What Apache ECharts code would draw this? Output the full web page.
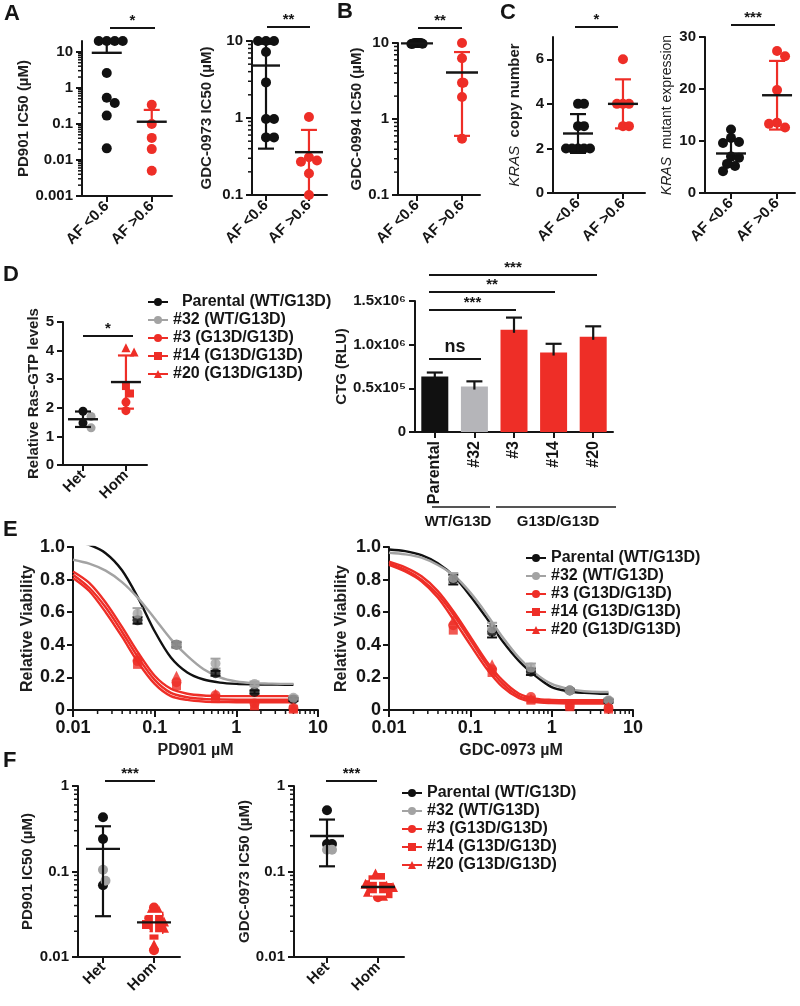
<!DOCTYPE html>
<html>
<head>
<meta charset="utf-8">
<script src="https://cdn.jsdelivr.net/npm/echarts@6/dist/echarts.min.js"></script>
<style>html,body{margin:0;padding:0;background:#fff}#chart{width:800px;height:1006px}</style>
</head>
<body>
<div id="chart"></div>
<script>
// ================= DATA =================
// Panel A / B / C: groups by KRAS allele frequency
const afCategories = ['AF <0.6', 'AF >0.6'];
const pdIC50Low = [20, 20, 20, 20, 2.6, 0.53, 0.38, 0.17, 0.021];
const pdIC50High = [0.34, 0.1, 0.041, 0.02, 0.005];
const pdIC50Mean = [9.4, 0.115];
const pdIC50SD = [9.6, 0.13];
const gdc0973Low = [10, 10, 10, 7.2, 2.9, 0.97, 0.97, 0.56, 0.56];
const gdc0973High = [1.03, 0.31, 0.28, 0.27, 0.19, 0.1];
const gdc0973Mean = [4.8, 0.36];
const gdc0973SD = [4.4, 0.34];
const gdc0994Low = [10, 10, 10, 10, 9.9, 9.9, 9.8, 9.8, 9.7];
const gdc0994High = [10, 6.3, 3.0, 3.0, 1.95, 0.55];
const gdc0994Mean = [9.9, 4.1];
const gdc0994SD = [0.1, 3.5];
const krasCopyLow = [4, 4, 3, 3, 2, 2, 2, 2, 2];
const krasCopyHigh = [6, 4, 4, 4, 3, 3];
const krasCopyMean = [2.67, 4.0];
const krasCopySD = [0.87, 1.1];
const krasExprLow = [12.2, 10.6, 9.8, 9.6, 7.0, 6.8, 5.6, 5.2, 4.2];
const krasExprHigh = [27.3, 26.3, 19.8, 13.5, 12.6, 13.3];
const krasExprMean = [7.6, 18.8];
const krasExprSD = [2.5, 6.6];

// Clones
const cloneNames = ['Parental (WT/G13D)', '#32 (WT/G13D)', '#3 (G13D/G13D)', '#14 (G13D/G13D)', '#20 (G13D/G13D)'];
const hetHomCategories = ['Het', 'Hom'];

// Panel D left: relative Ras-GTP levels
const rasGtpParental = [1.88, 1.47];
const rasGtp32 = [1.7, 1.3];
const rasGtp3 = [2.2, 1.9];
const rasGtp14 = [2.76, 2.5];
const rasGtp20 = [4.1, 3.95];
const rasGtpMean = [1.6, 2.9];
const rasGtpSD = [0.27, 0.93];

// Panel D right: CTG (RLU)
const ctgCategories = ['Parental', '#32', '#3', '#14', '#20'];
const ctgMean = [636000, 520000, 1170000, 910000, 1090000];
const ctgErr = [45000, 60000, 140000, 100000, 120000];
const ctgTickValues = [0, 500000, 1000000, 1500000];
const ctgTickLabels = ['0', '0.5x10\u2075', '1.0x10\u2076', '1.5x10\u2076'];
const ctgGroupLabels = ['WT/G13D', 'G13D/G13D'];

// Panel E: dose response (measured points)
const doseUM = [0.0617, 0.185, 0.556, 1.67, 5];
const pdViabParental = [0.55, 0.40, 0.225, 0.11, 0.065];
const pdViab32 = [0.59, 0.40, 0.285, 0.16, 0.075];
const pdViab3 = [0.30, 0.17, 0.09, 0.04, 0.01];
const pdViab14 = [0.28, 0.15, 0.07, 0.025, 0.005];
const pdViab20 = [0.33, 0.21, 0.10, 0.03, 0.015];
const pdErrParental = [0.02, 0.015, 0.015, 0.01, 0.01];
const pdErr32 = [0.035, 0.02, 0.03, 0.015, 0.01];
const gdcViabParental = [0.80, 0.48, 0.235, 0.12, 0.055];
const gdcViab32 = [0.81, 0.50, 0.26, 0.12, 0.06];
const gdcViab3 = [0.52, 0.25, 0.08, 0.025, 0.01];
const gdcViab14 = [0.49, 0.23, 0.06, 0.02, 0.005];
const gdcViab20 = [0.55, 0.28, 0.07, 0.03, 0.02];
const gdcErrParental = [0.03, 0.035, 0.02, 0.01, 0.01];
const gdcErr32 = [0.03, 0.035, 0.025, 0.01, 0.01];
// Panel E: fitted curves, read at fifth-decade steps
const curveDoseUM = [0.01, 0.0158, 0.0251, 0.0398, 0.0631, 0.1, 0.158, 0.251, 0.398, 0.631, 1, 1.58, 2.51, 3.98, 5];
const pdFitParental = [1.035, 1.013, 0.962, 0.857, 0.685, 0.483, 0.322, 0.23, 0.187, 0.168, 0.16, 0.157, 0.156, 0.155, 0.155];
const pdFit32 = [0.922, 0.898, 0.855, 0.785, 0.685, 0.561, 0.435, 0.332, 0.25, 0.2, 0.175, 0.165, 0.162, 0.16, 0.16];
const pdFit3 = [0.83, 0.75, 0.63, 0.48, 0.32, 0.185, 0.105, 0.078, 0.068, 0.064, 0.063, 0.063, 0.063, 0.063, 0.063];
const pdFit14 = [0.81, 0.73, 0.60, 0.45, 0.29, 0.16, 0.085, 0.062, 0.052, 0.049, 0.048, 0.048, 0.048, 0.048, 0.048];
const pdFit20 = [0.85, 0.78, 0.66, 0.51, 0.35, 0.21, 0.13, 0.10, 0.089, 0.086, 0.085, 0.085, 0.085, 0.085, 0.085];
const gdcFitParental = [0.985, 0.975, 0.95, 0.90, 0.82, 0.70, 0.565, 0.42, 0.30, 0.21, 0.14, 0.115, 0.105, 0.10, 0.10];
const gdcFit32 = [0.965, 0.955, 0.935, 0.89, 0.825, 0.72, 0.59, 0.445, 0.32, 0.225, 0.16, 0.13, 0.115, 0.11, 0.11];
const gdcFit3 = [0.90, 0.86, 0.80, 0.71, 0.58, 0.43, 0.28, 0.16, 0.085, 0.058, 0.052, 0.05, 0.05, 0.05, 0.05];
const gdcFit14 = [0.89, 0.85, 0.79, 0.69, 0.55, 0.40, 0.255, 0.14, 0.072, 0.048, 0.042, 0.04, 0.04, 0.04, 0.04];
const gdcFit20 = [0.91, 0.875, 0.82, 0.73, 0.60, 0.45, 0.30, 0.18, 0.10, 0.07, 0.062, 0.06, 0.06, 0.06, 0.06];

// Panel F: IC50 Het vs Hom
const pdHetParental = [0.43, 0.24, 0.069];
const pdHet32 = [0.105, 0.078];
const pdHom3 = [0.038, 0.028, 0.025, 0.022, 0.012];
const pdHom14 = [0.033, 0.030, 0.027, 0.024, 0.021, 0.018];
const pdHom20 = [0.035, 0.032, 0.026, 0.022, 0.014];
const pdHetHomMean = [0.184, 0.0254];
const pdHetHomSD = [0.154, 0.0065];
const gdcHetParental = [0.52, 0.21, 0.21];
const gdcHet32 = [0.18, 0.18];
const gdcHom3 = [0.075, 0.07, 0.065, 0.06, 0.05];
const gdcHom14 = [0.085, 0.08, 0.07, 0.065, 0.06, 0.055];
const gdcHom20 = [0.095, 0.072, 0.066, 0.058, 0.052];
const gdcHetHomMean = [0.26, 0.066];
const gdcHetHomSD = [0.145, 0.012];

// Tick labels
const ticksA1 = ['0.001', '0.01', '0.1', '1', '10'];
const ticksA2 = ['0.1', '1', '10'];
const ticksB = ['0.1', '1', '10'];
const ticksC1 = [0, 2, 4, 6];
const ticksC2 = [0, 10, 20, 30];
const ticksD1 = [0, 1, 2, 3, 4, 5];
const ticksEx = ['0.01', '0.1', '1', '10'];
const ticksF = ['0.01', '0.1', '1'];

// ================= STYLE / LAYOUT =================
const FONT = '"Liberation Sans", Arial, Helvetica, sans-serif';
const INK = '#151515';
const BLACK = '#111111', GRAY = '#a3a3a3', RED = '#ee2e27', GRAYBAR = '#b5b5b9';
const cloneColors = [BLACK, GRAY, RED, RED, RED];
const cloneSymbols = ['circle', 'circle', 'circle', 'rect', 'triangle'];

const grids = [], xAxes = [], yAxes = [], series = [];
const lg10 = Math.log10;

function addGrid(g) {
  grids.push({ left: g.left, top: g.top, width: g.width, height: g.height, containLabel: false, outerBoundsMode: 'none' });
  return grids.length - 1;
}
const axisLineStyle = { show: true, onZero: false, lineStyle: { color: INK, width: 2 } };
const tickStyle = { color: INK, width: 2 };
function tickLabelStyle(size) {
  return { fontFamily: FONT, fontWeight: 'bold', fontSize: size || 15, color: INK };
}
function nameStyle(size, weight) {
  return { fontFamily: FONT, fontWeight: weight || 'bold', fontSize: size || 15, color: '#1e1e1e' };
}

function yAxisFor(gi, cfg) {
  const vals = cfg.log ? cfg.ticks.map(t => lg10(parseFloat(t))) : cfg.ticks.slice();
  const labels = cfg.ticks.map(String);
  return {
    gridIndex: gi, type: 'value', min: cfg.yMin, max: cfg.yMax,
    axisLine: axisLineStyle,
    axisTick: { show: true, customValues: vals, length: 6, lineStyle: tickStyle },
    axisLabel: Object.assign({ customValues: vals, margin: cfg.labelMargin || 9,
      formatter: v => { let k = 0; vals.forEach((t, i) => { if (Math.abs(t - v) < 1e-6) k = i; }); return labels[k]; } },
      tickLabelStyle(cfg.tickFont)),
    splitLine: { show: false },
    name: cfg.name, nameLocation: 'middle', nameGap: cfg.nameGap,
    nameTextStyle: Object.assign(nameStyle(cfg.nameFont, cfg.nameWeight), { rich: { i: Object.assign(nameStyle(cfg.nameFont, 'normal'), { fontStyle: 'italic' }) } })
  };
}

function minorLogTicks(gi, axis, lo, hi, fixed) {
  const vals = [];
  for (let d = Math.floor(lo); d < Math.ceil(hi); d++) {
    for (let k = 2; k <= 9; k++) { const v = d + lg10(k); if (v > lo + 1e-9 && v < hi - 1e-9) vals.push(v); }
  }
  series.push({
    type: 'custom', xAxisIndex: gi, yAxisIndex: gi, silent: true, z: 2,
    data: vals.map(v => axis === 'y' ? [fixed, v] : [v, fixed]),
    renderItem: (params, api) => {
      const p = api.coord([api.value(0), api.value(1)]);
      const shape = axis === 'y' ? { x1: p[0] - 4, y1: p[1], x2: p[0], y2: p[1] } : { x1: p[0], y1: p[1], x2: p[0], y2: p[1] + 4 };
      return { type: 'line', shape, style: { stroke: INK, lineWidth: 1.5 } };
    }
  });
}

function errRenderer(colors, yMin, meanHalf, capHalf, meanColor) {
  return (params, api) => {
    const i = params.dataIndex;
    const x = api.value(0), m = api.value(1), lo = api.value(2), hi = api.value(3);
    const pm = api.coord([x, m]), ph = api.coord([x, hi]);
    const col = colors[i];
    const ls = () => ({ stroke: col, lineWidth: 2.2 });
    const ch = [
      { type: 'line', shape: { x1: pm[0], y1: pm[1], x2: ph[0], y2: ph[1] }, style: ls() },
      { type: 'line', shape: { x1: ph[0] - capHalf, y1: ph[1], x2: ph[0] + capHalf, y2: ph[1] }, style: ls() }
    ];
    if (lo > yMin - 50) {
      const pl = api.coord([x, Math.max(lo, yMin)]);
      ch.push({ type: 'line', shape: { x1: pm[0], y1: pm[1], x2: pl[0], y2: pl[1] }, style: ls() });
      if (lo >= yMin) ch.push({ type: 'line', shape: { x1: pl[0] - capHalf, y1: pl[1], x2: pl[0] + capHalf, y2: pl[1] }, style: ls() });
    }
    ch.push({ type: 'line', shape: { x1: pm[0] - meanHalf, y1: pm[1], x2: pm[0] + meanHalf, y2: pm[1] }, style: { stroke: meanColor || INK, lineWidth: 2.4 } });
    return { type: 'group', children: ch };
  };
}

// Dot-plot panel (two groups with mean +/- SD)
function addDotPanel(cfg, groups, means, sds) {
  const gi = addGrid(cfg);
  xAxes.push({
    gridIndex: gi, type: 'value', min: cfg.xMin, max: cfg.xMax,
    axisLine: axisLineStyle,
    axisTick: { show: true, customValues: [1, 2], length: 6, lineStyle: tickStyle },
    axisLabel: Object.assign({ customValues: [1, 2], rotate: 45, margin: 8, formatter: v => cfg.cats[Math.round(v) - 1] }, tickLabelStyle(15)),
    splitLine: { show: false }
  });
  yAxes.push(yAxisFor(gi, cfg));
  if (cfg.log) minorLogTicks(gi, 'y', cfg.yMin, cfg.yMax, cfg.xMin);
  const tf = cfg.log ? lg10 : (v => v);
  const pxX = cfg.width / (cfg.xMax - cfg.xMin);
  const pxY = cfg.height / (cfg.yMax - cfg.yMin);
  const buckets = [];
  groups.forEach((grp, gIdx) => {
    const placed = [];
    const d = cfg.size * cfg.swarm;
    grp.forEach(s => {
      let b = buckets.find(q => q.s === s);
      if (!b) { b = { s, data: [] }; buckets.push(b); }
      s.vals.forEach(v => {
        const y = tf(v) * pxY;
        let off = 0;
        for (let k = 0; k < 80; k++) {
          const o = k === 0 ? 0 : (k % 2 ? 1 : -1) * Math.ceil(k / 2) * d * 0.5;
          if (placed.every(q => Math.hypot(q.x - o, q.y - y) >= d - 0.01)) { off = o; break; }
        }
        placed.push({ x: off, y });
        b.data.push([gIdx + 1 + off / pxX, tf(v)]);
      });
    });
  });
  buckets.forEach(b => series.push({
    type: 'scatter', name: b.s.name, xAxisIndex: gi, yAxisIndex: gi, data: b.data,
    symbol: b.s.symbol || 'circle', symbolSize: b.s.size || cfg.size, itemStyle: { color: b.s.color, opacity: 1 }, z: 3, clip: false, silent: true
  }));
  const errData = means.map((m, i) => {
    const lo = m - sds[i];
    return [i + 1, tf(m), (cfg.log && lo <= 0) ? cfg.yMin - 100 : tf(lo), tf(m + sds[i])];
  });
  series.push({ type: 'custom', xAxisIndex: gi, yAxisIndex: gi, data: errData, z: 5, silent: true,
    renderItem: errRenderer(cfg.errColors, cfg.yMin, cfg.meanHalf || 15, cfg.capHalf || 8) });
  return gi;
}

// Dose-response panel
function addCurvePanel(cfg, fits, pts, errs) {
  const gi = addGrid(cfg);
  const xv = ticksEx.map(t => lg10(parseFloat(t)));
  xAxes.push({
    gridIndex: gi, type: 'value', min: -2, max: 1,
    axisLine: axisLineStyle,
    axisTick: { show: true, customValues: xv, length: 7, lineStyle: tickStyle },
    axisLabel: Object.assign({ customValues: xv, margin: 9, formatter: v => ticksEx[Math.round(v) + 2] }, tickLabelStyle(18)),
    splitLine: { show: false },
    name: cfg.xName, nameLocation: 'middle', nameGap: 33, nameTextStyle: nameStyle(16, 'bold')
  });
  yAxes.push({
    gridIndex: gi, type: 'value', min: 0, max: 1, interval: 0.2,
    axisLine: axisLineStyle,
    axisTick: { show: true, length: 6, lineStyle: tickStyle },
    axisLabel: Object.assign({ margin: 8, formatter: v => v === 0 ? '0' : v.toFixed(1) }, tickLabelStyle(18)),
    splitLine: { show: false },
    name: 'Relative Viability', nameLocation: 'middle', nameGap: cfg.nameGap, nameTextStyle: nameStyle(16)
  });
  minorLogTicks(gi, 'x', -2, 1, 0);
  fits.forEach((f, i) => series.push({
    type: 'line', name: cloneNames[i], xAxisIndex: gi, yAxisIndex: gi,
    data: curveDoseUM.map((d, j) => [lg10(d), f[j]]),
    smooth: 0.3, showSymbol: false, symbol: cloneSymbols[i], symbolSize: 9,
    color: cloneColors[i], lineStyle: { width: 2.4, color: cloneColors[i] }, z: 2, silent: true
  }));
  pts.forEach((p, i) => series.push({
    type: 'scatter', name: cloneNames[i], xAxisIndex: gi, yAxisIndex: gi,
    data: doseUM.map((d, j) => [lg10(d), p[j]]),
    symbol: cloneSymbols[i], symbolSize: cloneSymbols[i] === 'rect' ? 9 : 10,
    itemStyle: { color: cloneColors[i] }, z: 4, clip: false, silent: true
  }));
  errs.forEach((e, i) => {
    if (!e) return;
    series.push({
      type: 'custom', xAxisIndex: gi, yAxisIndex: gi, z: 3, silent: true,
      data: doseUM.map((d, j) => [lg10(d), pts[i][j], e[j]]),
      renderItem: (params, api) => {
        const x = api.value(0), y = api.value(1), er = api.value(2);
        const a = api.coord([x, y + er]), b = api.coord([x, Math.max(0, y - er)]);
        const st = () => ({ stroke: cloneColors[i], lineWidth: 2 });
        return { type: 'group', children: [
          { type: 'line', shape: { x1: a[0], y1: a[1], x2: b[0], y2: b[1] }, style: st() },
          { type: 'line', shape: { x1: a[0] - 5, y1: a[1], x2: a[0] + 5, y2: a[1] }, style: st() },
          { type: 'line', shape: { x1: b[0] - 5, y1: b[1], x2: b[0] + 5, y2: b[1] }, style: st() }
        ] };
      }
    });
  });
  return gi;
}

// ---- E panels first (their curve series represent the clones in the legends) ----
addCurvePanel({ left: 73, top: 547, width: 245, height: 163, xName: 'PD901 \u00b5M', nameGap: 35 },
  [pdFitParental, pdFit32, pdFit3, pdFit14, pdFit20],
  [pdViabParental, pdViab32, pdViab3, pdViab14, pdViab20],
  [pdErrParental, pdErr32, null, null, null]);
addCurvePanel({ left: 389, top: 547, width: 244, height: 163, xName: 'GDC-0973 \u00b5M', nameGap: 39 },
  [gdcFitParental, gdcFit32, gdcFit3, gdcFit14, gdcFit20],
  [gdcViabParental, gdcViab32, gdcViab3, gdcViab14, gdcViab20],
  [gdcErrParental, gdcErr32, null, null, null]);

// ---- A, B, C ----
const afBlack = (vals) => ({ name: afCategories[0], vals, color: BLACK });
const afRed = (vals) => ({ name: afCategories[1], vals, color: RED });
addDotPanel({ left: 82, top: 41, width: 90, height: 155, xMin: 0.45, xMax: 2.45, yMin: -3, yMax: lg10(20), log: true,
  ticks: ticksA1, cats: afCategories, name: 'PD901 IC50 (\u00b5M)', nameGap: 46, size: 10, swarm: 0.8, errColors: [BLACK, RED] },
  [[afBlack(pdIC50Low)], [afRed(pdIC50High)]], pdIC50Mean, pdIC50SD);
addDotPanel({ left: 252, top: 41, width: 75, height: 154, xMin: 0.674, xMax: 2.42, yMin: -1, yMax: 1, log: true,
  ticks: ticksA2, cats: afCategories, name: 'GDC-0973 IC50 (\u00b5M)', nameGap: 38, size: 10, swarm: 0.8, errColors: [BLACK, RED], meanHalf: 14 },
  [[afBlack(gdc0973Low)], [afRed(gdc0973High)]], gdc0973Mean, gdc0973SD);
addDotPanel({ left: 398, top: 43, width: 82, height: 152, xMin: 0.578, xMax: 2.4, yMin: -1, yMax: 1, log: true,
  ticks: ticksB, cats: afCategories, name: 'GDC-0994 IC50 (\u00b5M)', nameGap: 34, size: 10, swarm: 0.14, errColors: [BLACK, RED], meanHalf: 16 },
  [[afBlack(gdc0994Low)], [afRed(gdc0994High)]], gdc0994Mean, gdc0994SD);
addDotPanel({ left: 553, top: 37, width: 92, height: 156, xMin: 0.444, xMax: 2.49, yMin: 0, yMax: 7, log: false,
  ticks: ticksC1, cats: afCategories, name: '{i|KRAS}  copy number', nameGap: 31, size: 10, swarm: 0.6, errColors: [BLACK, RED] },
  [[afBlack(krasCopyLow)], [afRed(krasCopyHigh)]], krasCopyMean, krasCopySD);
addDotPanel({ left: 705, top: 37, width: 90, height: 156, xMin: 0.435, xMax: 2.39, yMin: 0, yMax: 30, log: false,
  ticks: ticksC2, cats: afCategories, name: '{i|KRAS}  mutant expression', nameGap: 31, nameFont: 14, nameWeight: 'normal', size: 10, swarm: 0.8, errColors: [BLACK, RED] },
  [[afBlack(krasExprLow)], [afRed(krasExprHigh)]], krasExprMean, krasExprSD);

// ---- D left ----
const cl = (i, vals, size) => ({ name: cloneNames[i], vals, color: cloneColors[i], symbol: cloneSymbols[i], size });
addDotPanel({ left: 63, top: 322, width: 84, height: 143, xMin: 0.535, xMax: 2.49, yMin: 0, yMax: 5, log: false,
  ticks: ticksD1, cats: hetHomCategories, name: 'Relative Ras-GTP levels', nameGap: 22, size: 9, swarm: 0.9, errColors: [BLACK, RED] },
  [[cl(0, rasGtpParental), cl(1, rasGtp32)], [cl(2, rasGtp3), cl(3, rasGtp14, 8), cl(4, rasGtp20)]], rasGtpMean, rasGtpSD);

// ---- D right: bars ----
{
  const gi = addGrid({ left: 415, top: 301, width: 198, height: 131 });
  xAxes.push({
    gridIndex: gi, type: 'category', data: ctgCategories,
    axisLine: axisLineStyle, axisTick: { show: true, alignWithLabel: true, length: 6, lineStyle: tickStyle },
    axisLabel: Object.assign({ rotate: 90, margin: 9, interval: 0 }, tickLabelStyle(16))
  });
  yAxes.push({
    gridIndex: gi, type: 'value', min: 0, max: 1500000,
    axisLine: axisLineStyle,
    axisTick: { show: true, customValues: ctgTickValues, length: 6, lineStyle: tickStyle },
    axisLabel: Object.assign({ customValues: ctgTickValues, margin: 9, formatter: v => ctgTickLabels[ctgTickValues.indexOf(v)] }, tickLabelStyle(15)),
    splitLine: { show: false },
    name: 'CTG (RLU)', nameLocation: 'middle', nameGap: 40, nameTextStyle: nameStyle(15)
  });
  const barColors = [BLACK, GRAYBAR, RED, RED, RED];
  series.push({ type: 'bar', xAxisIndex: gi, yAxisIndex: gi, barWidth: 27, silent: true,
    data: ctgMean.map((v, i) => ({ value: v, itemStyle: { color: barColors[i] } })), z: 2 });
  series.push({ type: 'custom', xAxisIndex: gi, yAxisIndex: gi, z: 3, silent: true,
    data: ctgMean.map((v, i) => [i, v, v + ctgErr[i]]),
    renderItem: (params, api) => {
      const a = api.coord([api.value(0), api.value(1)]), b = api.coord([api.value(0), api.value(2)]);
      const st = () => ({ stroke: INK, lineWidth: 2.2 });
      return { type: 'group', children: [
        { type: 'line', shape: { x1: a[0], y1: a[1] + 3, x2: b[0], y2: b[1] }, style: st() },
        { type: 'line', shape: { x1: b[0] - 8, y1: b[1], x2: b[0] + 8, y2: b[1] }, style: st() }
      ] };
    } });
}

// ---- F ----
addDotPanel({ left: 78, top: 786, width: 102, height: 171, xMin: 0.51, xMax: 2.51, yMin: -2, yMax: 0, log: true,
  ticks: ticksF, cats: hetHomCategories, name: 'PD901 IC50 (\u00b5M)', nameGap: 43, size: 10, swarm: 0.5,
  errColors: [BLACK, '#ffffff'], meanHalf: 17, capHalf: 8 },
  [[cl(0, pdHetParental), cl(1, pdHet32)], [cl(2, pdHom3), cl(3, pdHom14, 9), cl(4, pdHom20)]], pdHetHomMean, pdHetHomSD);
addDotPanel({ left: 294, top: 786, width: 110, height: 171, xMin: 0.353, xMax: 2.51, yMin: -2, yMax: 0, log: true,
  ticks: ticksF, cats: hetHomCategories, name: 'GDC-0973 IC50 (\u00b5M)', nameGap: 36, size: 10, swarm: 0.5,
  errColors: [BLACK, '#ffffff'], meanHalf: 17, capHalf: 8 },
  [[cl(0, gdcHetParental), cl(1, gdcHet32)], [cl(2, gdcHom3), cl(3, gdcHom14, 9), cl(4, gdcHom20)]], gdcHetHomMean, gdcHetHomSD);

// ---- Legends ----
const legendBase = {
  orient: 'vertical', data: cloneNames, itemGap: 2, itemWidth: 20, itemHeight: 10, selectedMode: false,
  textStyle: { fontFamily: FONT, fontWeight: 'bold', fontSize: 16, color: INK, padding: [0, 0, 0, 0] }
};
const legends = [
  Object.assign({}, legendBase, { left: 142, top: 289, formatter: n => n.indexOf('Parental') === 0 ? '  ' + n : n }),
  Object.assign({}, legendBase, { left: 520, top: 545 }),
  Object.assign({}, legendBase, { left: 396, top: 780 })
];

// ---- Annotations (panel letters, significance bars, group labels) ----
const graphic = [];
const letter = (t, x, y) => graphic.push({ type: 'text', left: x, top: y, style: { text: t, font: 'bold 22px ' + FONT, fill: INK } });
letter('A', 4, 3); letter('B', 337, 1); letter('C', 500, 2); letter('D', 3, 264); letter('E', 3, 519); letter('F', 3, 750);
function sig(x1, x2, y, txt, ty, font) {
  graphic.push({ type: 'line', shape: { x1, y1: y, x2, y2: y }, style: { stroke: INK, lineWidth: 2 } });
  graphic.push({ type: 'text', x: (x1 + x2) / 2, y: ty, style: { text: txt, textAlign: 'center', textVerticalAlign: 'middle', font: font || 'bold 15px ' + FONT, fill: INK } });
}
sig(110, 155, 28, '*', 21);
sig(267, 310, 27, '**', 20);
sig(418, 462, 28, '**', 21);
sig(575, 618, 27, '*', 20);
sig(731, 775, 25, '***', 18);
sig(83, 133, 336, '*', 329);
sig(429, 597, 275, '***', 268);
sig(429, 555, 292, '**', 285);
sig(429, 516, 310, '***', 303);
sig(429, 481, 359, 'ns', 347, 'bold 18px ' + FONT);
sig(105, 155, 781, '***', 774);
sig(326, 377, 781, '***', 774);
graphic.push({ type: 'line', shape: { x1: 432, y1: 507, x2: 490, y2: 507 }, style: { stroke: '#555', lineWidth: 2 } });
graphic.push({ type: 'line', shape: { x1: 496, y1: 507, x2: 616, y2: 507 }, style: { stroke: '#555', lineWidth: 2 } });
graphic.push({ type: 'text', x: 458, y: 522, style: { text: ctgGroupLabels[0], textAlign: 'center', textVerticalAlign: 'middle', font: 'bold 15px ' + FONT, fill: INK } });
graphic.push({ type: 'text', x: 558, y: 522, style: { text: ctgGroupLabels[1], textAlign: 'center', textVerticalAlign: 'middle', font: 'bold 15px ' + FONT, fill: INK } });

const chart = echarts.init(document.getElementById('chart'), null, { renderer: 'canvas' });
chart.setOption({
  backgroundColor: '#ffffff',
  animation: false,
  textStyle: { fontFamily: FONT },
  grid: grids, xAxis: xAxes, yAxis: yAxes, series, legend: legends, graphic
});
</script>
</body>
</html>
